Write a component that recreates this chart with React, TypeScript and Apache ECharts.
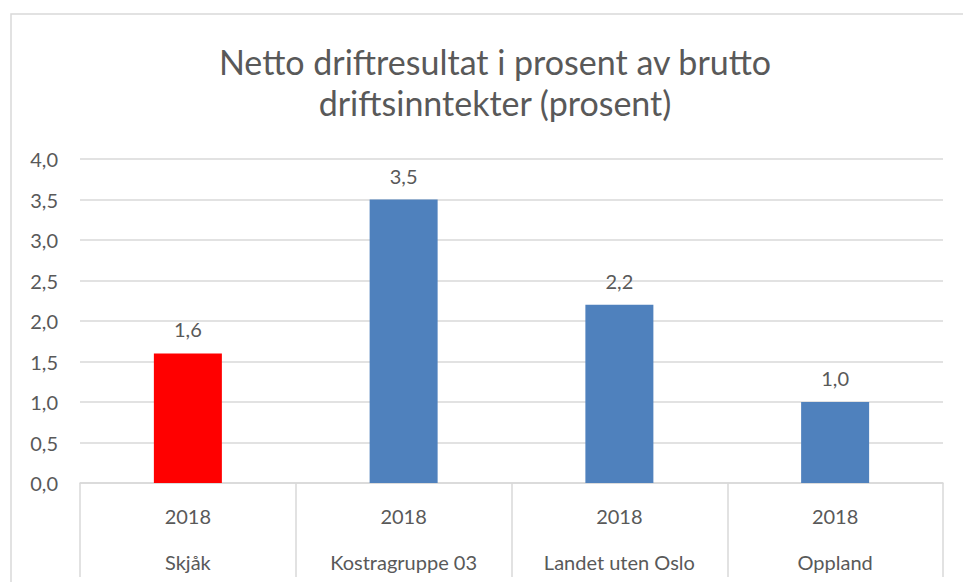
import React, { useEffect, useRef } from "react";
import * as echarts from "echarts";

const titleLines = ["Netto driftresultat i prosent av brutto", "driftsinntekter (prosent)"];
const years = ["2018", "2018", "2018", "2018"];
const regions = ["Skjåk", "Kostragruppe 03", "Landet uten Oslo", "Oppland"];
const values = [1.6, 3.5, 2.2, 1.0];
const barColors = ["#ff0000", "#4f81bd", "#4f81bd", "#4f81bd"];
const yTicks = { min: 0, max: 4, interval: 0.5 };

const FONT = "Lato, 'Open Sans', sans-serif";
const TEXT = "#595959";
const GRID = "#d9d9d9";

export default function App() {
  const ref = useRef<HTMLDivElement>(null);
  useEffect(() => {
    const chart = echarts.init(ref.current!, null, { renderer: "svg" });
    const fmt = (v: number) => v.toFixed(1).replace(".", ",");
    chart.setOption({
      animation: false,
      backgroundColor: "#ffffff",
      textStyle: { fontFamily: FONT },
      title: {
        text: titleLines.join("\n"),
        left: 490,
        top: 36,
        textAlign: "center",
        textStyle: { fontFamily: FONT, fontSize: 34, fontWeight: "normal", color: TEXT, lineHeight: 41 },
      },
      graphic: [
        {
          type: "rect",
          shape: { x: 11, y: 14, width: 1000, height: 700 },
          style: { fill: "none", stroke: GRID, lineWidth: 1.5 },
          silent: true,
        },
      ],
      grid: { left: 80, right: 20, top: 159, bottom: 99 },
      xAxis: {
        type: "category",
        data: regions.map((r, i) => `{a|${years[i]}}\n{b|${r}}`),
        axisLine: { show: true, lineStyle: { color: GRID, width: 1.5 } },
        axisTick: { show: true, interval: 0, alignWithLabel: false, length: 94, lineStyle: { color: GRID, width: 1.5 } },
        axisLabel: {
          interval: 0,
          margin: 10,
          color: TEXT,
          fontFamily: FONT,
          fontSize: 20,
          align: "center",
          rich: {
            a: { fontFamily: FONT, fontSize: 20, color: TEXT, lineHeight: 46, align: "center" },
            b: { fontFamily: FONT, fontSize: 20, color: TEXT, lineHeight: 46, align: "center" },
          },
        },
      },
      yAxis: {
        type: "value",
        min: yTicks.min,
        max: yTicks.max,
        interval: yTicks.interval,
        axisLine: { show: false },
        axisTick: { show: false },
        splitLine: { lineStyle: { color: GRID, width: 1.5 } },
        axisLabel: { margin: 22, color: TEXT, fontFamily: FONT, fontSize: 20, formatter: fmt },
      },
      series: [
        {
          type: "bar",
          barWidth: 68,
          data: values.map((v, i) => ({ value: v, itemStyle: { color: barColors[i] } })),
          label: {
            show: true,
            position: "top",
            distance: 14,
            color: TEXT,
            fontFamily: FONT,
            fontSize: 20,
            formatter: (p: any) => fmt(p.value),
          },
        },
      ],
    });
    return () => chart.dispose();
  }, []);
  return <div ref={ref} style={{ position: "fixed", left: 0, top: 0, width: 963, height: 582 }} />;
}
